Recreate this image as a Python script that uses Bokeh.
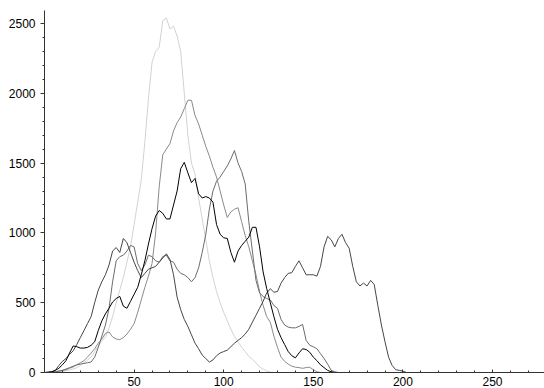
from bokeh.plotting import figure
from bokeh.models import FixedTicker, Range1d
from bokeh.embed import file_html
from bokeh.resources import INLINE

# ---- data ----
x_a = list(range(0, 132, 2))
y_a = [0, 0, 0, 2, 5, 8, 12, 18, 25, 35,
       50, 70, 90, 110, 150, 190, 225, 255, 320, 400,
       500, 590, 680, 790, 900, 1060, 1220, 1380, 1650, 1960,
       2220, 2300, 2330, 2520, 2540, 2460, 2480, 2410, 2300, 2000,
       1700, 1500, 1420, 1250, 1100, 950, 800, 680, 580, 500,
       430, 370, 310, 260, 220, 180, 150, 115, 95, 70,
       40, 25, 10, 3, 0, 0]

x_b = list(range(0, 156, 2))
y_b = [0, 0, 2, 5, 10, 15, 20, 30, 40, 55,
       70, 85, 110, 140, 170, 210, 240, 280, 290, 255,
       240, 235, 250, 275, 310, 350, 430, 520, 610, 690,
       780, 1000, 1330, 1560, 1600, 1640, 1730, 1790, 1830, 1890,
       1950, 1950, 1840, 1780, 1700, 1620, 1550, 1470, 1400, 1300,
       1200, 1110, 1150, 1170, 1180, 1080, 980, 900, 800, 700,
       580, 480, 400, 360, 260, 180, 110, 80, 60, 45,
       38, 35, 30, 35, 38, 20, 5, 0]

x_c = list(range(0, 164, 2))
y_c = [0, 2, 5, 15, 30, 55, 85, 140, 190, 185,
       175, 175, 180, 195, 220, 300, 370, 420, 460, 505,
       530, 545, 475, 460, 510, 560, 610, 700, 800, 920,
       1030, 1120, 1160, 1140, 1100, 1100, 1200, 1300, 1460, 1505,
       1430, 1360, 1390, 1280, 1250, 1260, 1250, 1220, 1060, 990,
       965, 960, 860, 790, 870, 910, 940, 970, 1040, 1040,
       900, 720, 600, 500, 400, 310, 250, 200, 150, 120,
       105, 140, 170, 165, 145, 110, 85, 55, 35, 15,
       5, 0]

x_d = list(range(0, 204, 2))
y_d = [0, 2, 5, 15, 50, 80, 100, 130, 155, 200,
       250, 300, 350, 400, 500, 590, 650, 700, 770, 870,
       895, 860, 960, 930, 860, 790, 730, 680, 710, 740,
       750, 760, 790, 820, 850, 810, 700, 540, 450, 380,
       330, 270, 210, 170, 125, 100, 75, 90, 120, 140,
       150, 160, 185, 210, 230, 250, 275, 310, 360, 410,
       460, 510, 570, 600, 575, 580, 640, 680, 710, 715,
       760, 800, 750, 700, 700, 700, 690, 760, 900, 975,
       950, 900, 960, 990, 930, 890, 760, 650, 620, 640,
       620, 660, 630, 480, 340, 220, 110, 50, 20, 15,
       10, 0]

x_e = list(range(0, 166, 2))
y_e = [0, 0, 2, 5, 10, 15, 25, 35, 45, 55,
       60, 65, 70, 75, 110, 180, 260, 340, 460, 650,
       800, 830, 840, 870, 910, 900, 780, 730, 770, 840,
       830, 800, 790, 830, 840, 800, 790, 740, 710, 700,
       680, 650, 680, 750, 860, 990, 1170, 1300, 1370, 1400,
       1440, 1480, 1530, 1590, 1500, 1440, 1350, 1080, 870, 660,
       570, 545, 530, 520, 480, 460, 380, 340, 325, 320,
       320, 330, 345, 230, 195, 185, 170, 135, 100, 60,
       15, 5, 0]

x_ticks = [50, 100, 150, 200, 250]
x_minor = list(range(0, 290, 10))
y_ticks = [0, 500, 1000, 1500, 2000, 2500]
y_minor = list(range(0, 2600, 100))

series = [
    (x_a, y_a, "#d2d2d2"),
    (x_b, y_b, "#8a8a8a"),
    (x_e, y_e, "#6c6c6c"),
    (x_d, y_d, "#464646"),
    (x_c, y_c, "#000000"),
]

p = figure(width=544, height=388, output_backend="svg", toolbar_location=None,
           x_range=Range1d(0, 279), y_range=Range1d(0, 2593),
           min_border_top=10, min_border_right=0, min_border_left=44, min_border_bottom=0)
p.outline_line_color = None
p.grid.visible = False
p.background_fill_color = "white"
p.border_fill_color = "white"

for xs, ys, col in series:
    p.line(xs, ys, line_color=col, line_width=1)

p.xaxis.ticker = FixedTicker(ticks=x_ticks, minor_ticks=x_minor)
p.yaxis.ticker = FixedTicker(ticks=y_ticks, minor_ticks=y_minor)

for ax in (p.xaxis[0], p.yaxis[0]):
    ax.axis_line_color = "#333333"
    ax.major_tick_line_color = "#333333"
    ax.minor_tick_line_color = "#333333"
    ax.major_label_text_font = "Liberation Sans"
    ax.major_label_text_font_size = "12px"
    ax.major_label_text_color = "#000000"

p.xaxis.major_tick_in = 3
p.xaxis.major_tick_out = 0
p.xaxis.minor_tick_in = 2
p.xaxis.minor_tick_out = 0
p.xaxis.major_label_standoff = 4

p.yaxis.major_tick_in = 0
p.yaxis.major_tick_out = 4
p.yaxis.minor_tick_in = 0
p.yaxis.minor_tick_out = 2
p.yaxis.major_label_standoff = 5

open("out.html", "w").write(file_html(p, INLINE))
